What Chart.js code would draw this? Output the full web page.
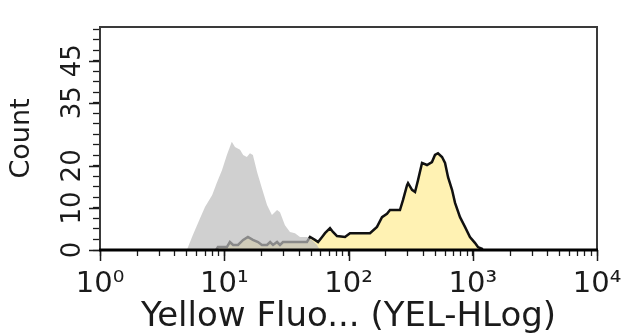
<!DOCTYPE html>
<html>
<head>
<meta charset="utf-8">
<script src="https://cdn.jsdelivr.net/npm/chart.js@4/dist/chart.umd.min.js"></script>
<style>
  html, body { margin: 0; padding: 0; background: #fff; }
</style>
</head>
<body>
<canvas id="chart" width="640" height="335"></canvas>
<script>
// control sample (grey, filled, no outline)
const ctrlFluo  = [5.0, 5.6, 6.4, 7.0, 8.0, 8.7, 9.6, 10.5, 11.5, 12.2, 13.4, 14.2, 15.2, 16.1, 17.0, 18.4, 20.1, 22.1, 24.2, 26.6, 28.1, 30.8, 33.8, 37.1, 40.7, 46.3, 50.8, 55.8, 59.0]
const ctrlCount = [0, 3.6, 7.6, 10.2, 13.1, 15.9, 19.0, 22.6, 25.7, 24.5, 23.8, 22.6, 22.1, 23.0, 22.6, 18.5, 14.7, 10.7, 8.3, 9.5, 9.0, 5.9, 4.3, 4.0, 3.1, 3.1, 2.4, 1.2, 0]

// stained sample (yellow with black outline)
const stainFluo  = [8.6, 8.9, 10.5, 11.1, 11.8, 12.9, 14.2, 15.5, 17.0, 18.7, 20.1, 22.1, 23.4, 24.7, 26.6, 28.1, 29.7,
                    40.7, 46.3, 49.0, 53.7, 56.9, 61.3, 64.7, 71.0, 75.0, 80.8, 93.7, 102.8, 148.9, 169.5, 186.1, 204.0,
                    215.8, 259.5, 274.8, 295.9, 301.4, 324.6, 343.2, 362.7, 390.6, 428.3, 469.6, 496.6, 525.0, 566.0,
                    598.5, 632.8, 681.2, 720.3, 789.8, 866.0, 949.5, 1041, 1101, 1186, 1200]
const stainCount = [0, 0.7, 0.7, 1.9, 1.2, 1.2, 2.4, 3.1, 2.4, 1.9, 1.2, 1.2, 1.9, 1.2, 1.9, 1.2, 1.9,
                    1.9, 1.9, 3.1, 2.4, 1.9, 3.1, 4.0, 5.2, 4.3, 3.3, 3.1, 4.0, 4.0, 5.5, 7.8, 8.6,
                    9.5, 9.5, 11.9, 15.4, 15.9, 14.3, 13.8, 16.6, 20.7, 20.2, 20.9, 22.6, 23.0, 22.1,
                    20.7, 17.3, 14.3, 11.2, 7.8, 5.5, 3.1, 1.7, 0.7, 0.3, 0]

const xMajors = [1, 10, 100, 1000, 10000]
const xLabels = ['10\u2070', '10\u00b9', '10\u00b2', '10\u00b3', '10\u2074']
const yLabelVals = [0, 10, 20, 35, 45]
const yMax = 53

const FONT = "'DejaVu Sans', Verdana, sans-serif"
const INK = '#1b1b1b'

function pts(xs, ys) {
  return xs.map((x, i) => ({ x: x, y: ys[i] }))
}

// longer tick marks for the labelled values + the plot frame
const framePlugin = {
  id: 'frame',
  afterDraw(chart) {
    const ctx = chart.ctx
    const a = chart.chartArea
    const xs = chart.scales.x
    const ys = chart.scales.y
    ctx.save()
    ctx.strokeStyle = INK
    ctx.lineWidth = 1.5
    ctx.beginPath()
    xMajors.forEach(v => {
      const px = Math.round(xs.getPixelForValue(v)) + 0.5
      ctx.moveTo(px, a.bottom)
      ctx.lineTo(px, a.bottom + 11)
    })
    yLabelVals.forEach(v => {
      const py = Math.round(ys.getPixelForValue(v)) + 0.5
      ctx.moveTo(a.left - 11, py)
      ctx.lineTo(a.left, py)
    })
    ctx.stroke()

    ctx.strokeStyle = '#3a3a3a'
    ctx.lineWidth = 2
    ctx.strokeRect(a.left, a.top, a.right - a.left, a.bottom - a.top)
    ctx.strokeStyle = '#000'
    ctx.lineWidth = 3
    ctx.beginPath()
    ctx.moveTo(a.left - 1, a.bottom)
    ctx.lineTo(a.right + 1, a.bottom)
    ctx.stroke()
    ctx.restore()
  }
}

new Chart(document.getElementById('chart'), {
  type: 'line',
  data: {
    datasets: [
      {
        label: 'control',
        data: pts(ctrlFluo, ctrlCount),
        backgroundColor: 'rgba(188,188,188,0.7)',
        borderWidth: 0,
        pointRadius: 0,
        fill: 'origin',
        tension: 0
      },
      {
        label: 'stained',
        data: pts(stainFluo, stainCount),
        backgroundColor: '#fff2b3',
        borderColor: '#111',
        borderWidth: 2.5,
        pointRadius: 0,
        fill: 'origin',
        tension: 0
      }
    ]
  },
  options: {
    responsive: false,
    animation: false,
    events: [],
    layout: { padding: { top: 27, right: 43, left: 0, bottom: 0 } },
    plugins: { legend: { display: false }, tooltip: { enabled: false } },
    scales: {
      x: {
        type: 'logarithmic',
        min: 1,
        max: 10000,
        afterBuildTicks(scale) {
          const t = []
          for (let d = 1; d < 10000; d *= 10) {
            for (let m = 1; m < 10; m++) t.push({ value: m * d })
          }
          t.push({ value: 10000 })
          scale.ticks = t
        },
        afterFit(scale) { scale.height = 85 },
        grid: { drawOnChartArea: false, drawTicks: true, tickLength: 6, tickColor: INK, tickWidth: 1.3 },
        border: { display: false },
        ticks: {
          autoSkip: false,
          maxRotation: 0,
          padding: 11,
          color: INK,
          font: { family: FONT, size: 29 },
          callback(v) {
            const i = xMajors.indexOf(v)
            return i >= 0 ? xLabels[i] : ''
          }
        },
        title: {
          display: true,
          text: 'Yellow Fluo... (YEL-HLog)',
          color: INK,
          font: { family: FONT, size: 34 },
          padding: { top: 0, bottom: -3 }
        }
      },
      y: {
        min: 0,
        max: yMax,
        afterBuildTicks(scale) {
          const t = []
          for (let v = 0; v <= 52.5; v += 2.5) t.push({ value: v })
          scale.ticks = t
        },
        afterFit(scale) { scale.width = 100 },
        grid: { drawOnChartArea: false, drawTicks: true, tickLength: 7, tickColor: INK, tickWidth: 1.3 },
        border: { display: false },
        ticks: {
          autoSkip: false,
          minRotation: 90,
          maxRotation: 90,
          crossAlign: 'center',
          padding: 3,
          color: INK,
          font: { family: FONT, size: 26 },
          callback(v) {
            return yLabelVals.includes(v) ? String(v) : ''
          }
        },
        title: {
          display: true,
          text: 'Count',
          color: INK,
          font: { family: FONT, size: 27 },
          padding: { top: 6, bottom: 0 }
        }
      }
    }
  },
  plugins: [framePlugin]
})
</script>
</body>
</html>
